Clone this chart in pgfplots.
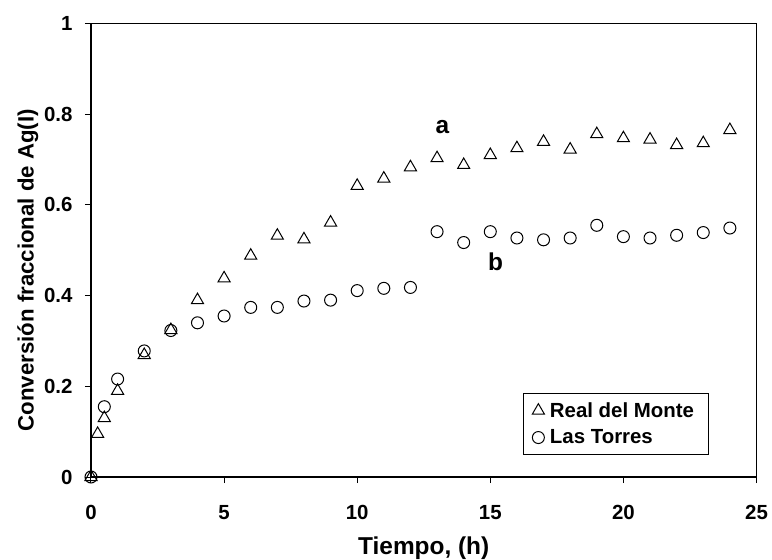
\documentclass[border=0pt]{standalone}
\usepackage{pgfplots}
\pgfplotsset{compat=1.18}
\usepackage{fontspec}
\setmainfont{Liberation Sans}
\begin{document}
\begin{tikzpicture}
\begin{axis}[
  scale only axis,
  width=665.5bp, height=453.5bp,
  xmin=0, xmax=25, ymin=0, ymax=1,
  xtick={0,5,...,25}, ytick={0,0.2,...,1.0},
  xtick pos=left, ytick pos=left,
  tick align=outside, major tick length=6bp,
  axis line style={line width=1.2bp},
  tick style={line width=1bp, black},
  /pgf/number format/assume math mode=true,
  ticklabel style={font=\bfseries\fontsize{20.5}{24}\selectfont},
  yticklabel style={/pgf/number format/fixed, xshift=-9bp},
  xticklabel style={yshift=-19bp},
  xlabel style={font=\bfseries\fontsize{24.5}{28}\selectfont, at={(axis description cs:0.5,-0.157)}, anchor=center},
  ylabel style={font=\bfseries\fontsize{22.3}{26}\selectfont, at={(axis description cs:-0.095,0.456)}, anchor=center},
  xlabel={Tiempo, (h)},
  ylabel={Conversión fraccional de Ag(I)},
  legend style={at={(rel axis cs:0.649,0.185)}, anchor=north west,
    draw=black, line width=0.8bp, font=\bfseries\fontsize{20.5}{24}\selectfont,
    inner xsep=9bp, inner ysep=7bp, row sep=7bp, cells={anchor=west},
    nodes={inner xsep=5.5bp}},
  legend cell align=left,
  clip=false,
]
\addplot[only marks, mark=triangle, mark size=7bp, mark options={line width=1bp, black}] coordinates {
(0,0) (0.25,0.095) (0.5,0.13) (1,0.19) (2,0.269) (3,0.324) (4,0.39) (5,0.438)
(6,0.488) (7,0.532) (8,0.524) (9,0.561) (10,0.642) (11,0.658) (12,0.683)
(13,0.703) (14,0.688) (15,0.710) (16,0.725) (17,0.739) (18,0.722) (19,0.756)
(20,0.747) (21,0.744) (22,0.732) (23,0.736) (24,0.765)
};
\addlegendentry{Real del Monte}
\addplot[only marks, mark=o, mark size=6bp, mark options={line width=1bp, black}] coordinates {
(0,0) (0.5,0.155) (1,0.216) (2,0.278) (3,0.323) (4,0.340) (5,0.355)
(6,0.374) (7,0.374) (8,0.388) (9,0.390) (10,0.411) (11,0.416) (12,0.418)
(13,0.541) (14,0.517) (15,0.541) (16,0.527) (17,0.523) (18,0.527) (19,0.555)
(20,0.530) (21,0.527) (22,0.533) (23,0.539) (24,0.549)
};
\addlegendentry{Las Torres}
\node[font=\bfseries\fontsize{24.5}{28}\selectfont] at (axis cs:13.2,0.771) {a};
\node[font=\bfseries\fontsize{24.5}{28}\selectfont] at (axis cs:15.2,0.475) {b};
\end{axis}
\pgfresetboundingbox
\path[use as bounding box] ([xshift=-91bp,yshift=-83bp]current axis.south west) rectangle ([xshift=15.5bp,yshift=23.5bp]current axis.north east);
\end{tikzpicture}
\end{document}
